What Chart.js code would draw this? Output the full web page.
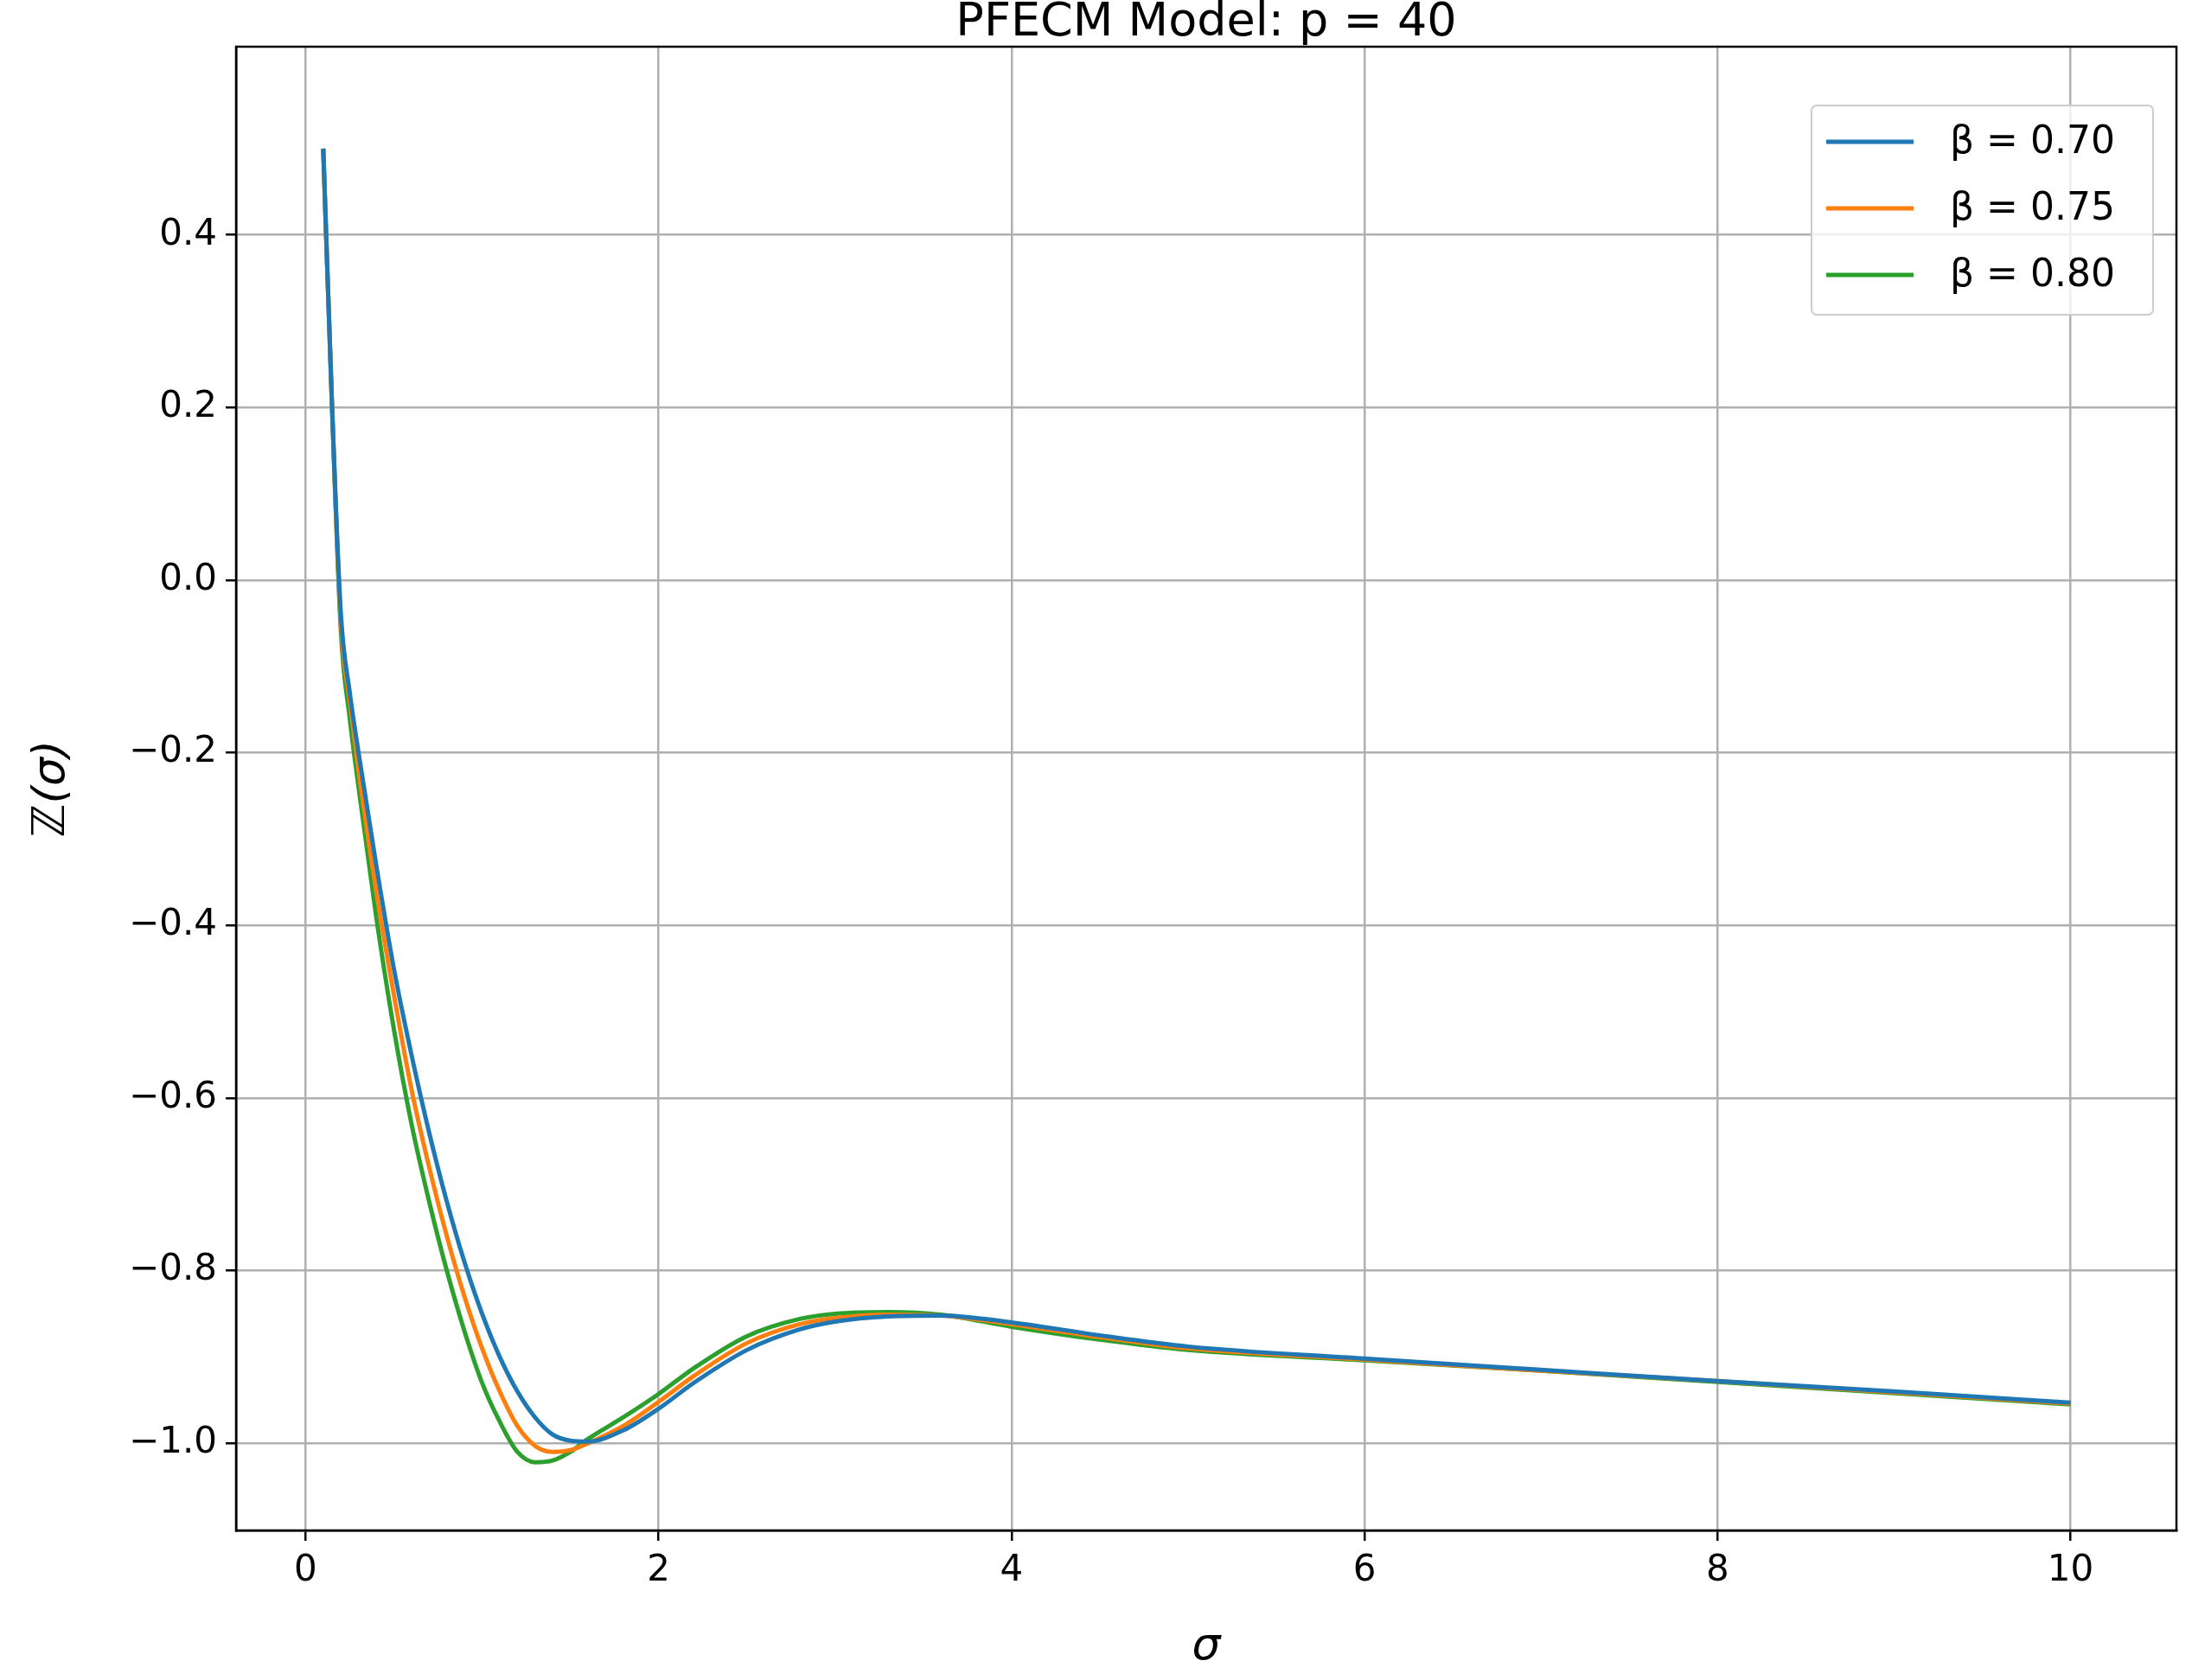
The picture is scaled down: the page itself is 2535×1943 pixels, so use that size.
<!DOCTYPE html>
<html><head><meta charset="utf-8">
<script src="https://cdn.jsdelivr.net/npm/chart.js@4"></script>
<style>body{margin:0;background:#fff}#wrap{width:2535px;height:1943px}</style>
</head><body><div id="wrap"><canvas id="c"></canvas></div>
<script>
// values
const xs = [0.1, 0.15, 0.2, 0.25, 0.3, 0.4, 0.5, 0.6, 0.7, 0.8, 0.9, 1.0, 1.1, 1.2, 1.3, 1.4, 1.5, 1.6, 1.8, 2.0, 2.2, 2.5, 2.8, 3.0, 3.3, 3.6, 4.0, 4.5, 5.0, 6.0, 7.0, 8.0, 9.0, 10.0];
const beta070 = [0.5, 0.2, -0.04, -0.13, -0.2, -0.33, -0.45, -0.55, -0.64, -0.72, -0.79, -0.85, -0.9, -0.94, -0.97, -0.99, -0.997, -0.998, -0.985, -0.96, -0.93, -0.892, -0.868, -0.859, -0.853, -0.852, -0.86, -0.875, -0.888, -0.902, -0.915, -0.928, -0.94, -0.953];
const beta075 = [0.5, 0.2, -0.05, -0.14, -0.22, -0.36, -0.48, -0.59, -0.68, -0.76, -0.83, -0.89, -0.94, -0.98, -1.003, -1.01, -1.008, -1.0, -0.98, -0.952, -0.922, -0.884, -0.862, -0.855, -0.851, -0.852, -0.862, -0.877, -0.89, -0.903, -0.916, -0.928, -0.941, -0.954];
const beta080 = [0.5, 0.2, -0.06, -0.16, -0.24, -0.39, -0.52, -0.63, -0.72, -0.8, -0.87, -0.93, -0.975, -1.01, -1.022, -1.02, -1.01, -0.995, -0.97, -0.943, -0.913, -0.876, -0.856, -0.85, -0.848, -0.851, -0.865, -0.88, -0.892, -0.904, -0.916, -0.929, -0.942, -0.955];
const labels = ['β = 0.70', 'β = 0.75', 'β = 0.80'];
const colors = ['#1f77b4', '#ff7f0e', '#2ca02c'];
const xTicks = [0, 2, 4, 6, 8, 10];
const yTicks = [-1.0, -0.8, -0.6, -0.4, -0.2, 0.0, 0.2, 0.4];

const FONT = 'DejaVu Sans';
const pts = ys => xs.map((x, i) => ({ x, y: ys[i] }));

// frame, titles and legend drawn on top
const extras = {
    id: 'extras',
    afterDraw(chart) {
        const ctx = chart.ctx, a = chart.chartArea;
        ctx.save();
        ctx.strokeStyle = '#000'; ctx.lineWidth = 2.5;
        ctx.strokeRect(a.left, a.top, a.right - a.left, a.bottom - a.top);

        ctx.fillStyle = '#000';
        ctx.textAlign = 'center'; ctx.textBaseline = 'middle';
        ctx.font = '54px ' + FONT;
        ctx.fillText('PFECM Model: p = 40', (a.left + a.right) / 2, 27);
        ctx.font = 'italic 52px ' + FONT;
        ctx.fillText('σ', (a.left + a.right) / 2, 1905);
        ctx.save();
        ctx.translate(60, (a.top + a.bottom) / 2);
        ctx.rotate(-Math.PI / 2);
        ctx.fillText('ℤ(σ)', 0, 0);
        ctx.restore();

        ctx.textAlign = 'left';
        ctx.fillStyle = 'rgba(255,255,255,0.8)';
        ctx.strokeStyle = '#cccccc'; ctx.lineWidth = 2;
        ctx.beginPath();
        ctx.roundRect(2095, 122, 395, 242, 6);
        ctx.fill(); ctx.stroke();
        ctx.font = '44px ' + FONT;
        labels.forEach((l, i) => {
            const y = 164 + i * 77;
            ctx.strokeStyle = colors[i]; ctx.lineWidth = 5;
            ctx.beginPath(); ctx.moveTo(2112, y); ctx.lineTo(2213, y); ctx.stroke();
            ctx.fillStyle = '#000';
            ctx.fillText(l, 2255, y + 2);
        });
        ctx.restore();
    }
};

new Chart(document.getElementById('c'), {
    type: 'line',
    data: {
        datasets: [beta070, beta075, beta080].map((d, i) => ({
            label: labels[i], data: pts(d), borderColor: colors[i],
            borderWidth: 5, pointRadius: 0, cubicInterpolationMode: 'monotone'
        }))
    },
    options: {
        responsive: true, maintainAspectRatio: false, animation: false,
        layout: { padding: { right: 18, left: 0, top: 54, bottom: 0 } },
        plugins: { legend: { display: false }, tooltip: { enabled: false } },
        scales: {
            x: {
                type: 'linear', min: -0.394, max: 10.6,
                afterBuildTicks: a => { a.ticks = xTicks.map(v => ({ value: v })); },
                afterFit: a => { a.height = 173; },
                ticks: { color: '#000', font: { family: FONT, size: 42 }, padding: 10 },
                grid: { color: '#b0b0b0', lineWidth: 2.5, tickLength: 12, tickColor: '#000' },
                border: { color: '#000', width: 2.5 }
            },
            y: {
                min: -1.101, max: 0.618,
                afterBuildTicks: a => { a.ticks = yTicks.map(v => ({ value: v })); },
                afterFit: a => { a.width = 273; },
                ticks: { color: '#000', font: { family: FONT, size: 42 }, padding: 10,
                    callback: v => (v < 0 ? '−' : '') + Math.abs(v).toFixed(1) },
                grid: { color: '#b0b0b0', lineWidth: 2.5, tickLength: 12, tickColor: '#000' },
                border: { color: '#000', width: 2.5 }
            }
        }
    },
    plugins: [extras]
});
</script>
</body></html>
